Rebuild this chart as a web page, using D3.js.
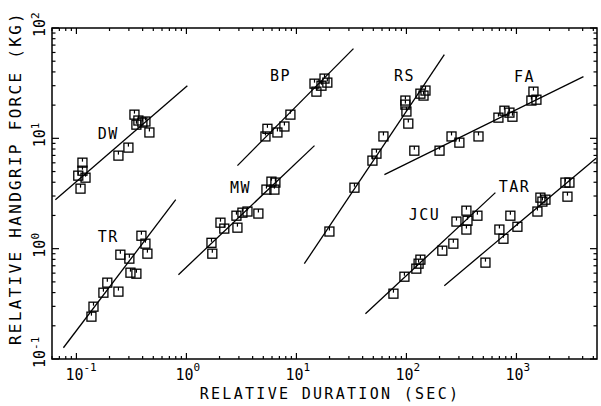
<!DOCTYPE html>
<html lang="en">
<head>
  <meta charset="UTF-8">
  <title>Relative handgrip force vs relative duration</title>
  <script src="https://d3js.org/d3.v7.min.js"></script>
  <style>
    body {
      margin: 0;
      background: #fff;
    }
    svg text {
      font-family: "DejaVu Sans Mono", monospace;
      fill: #000;
    }
  </style>
</head>
<body>
  <svg width="601" height="406"></svg>

  <script>
    // each point: [relative duration (s), relative force (kg)]
    const DW = [[0.337, 16.4], [0.398, 13.9], [0.366, 14.5], [0.424, 14.2], [0.351, 13.3],
                [0.461, 11.3], [0.297, 8.24], [0.241, 6.97], [0.1135, 6.02], [0.1135, 5.09],
                [0.104, 4.59], [0.121, 4.40], [0.109, 3.50]];
    const TR = [[0.390, 1.31], [0.424, 1.11], [0.442, 0.901], [0.251, 0.882], [0.303, 0.812],
                [0.310, 0.606], [0.351, 0.593], [0.191, 0.492], [0.176, 0.399], [0.241, 0.408],
                [0.143, 0.298], [0.137, 0.242]];
    const MW = [[5.93, 4.05], [6.44, 3.97], [5.34, 3.43], [6.31, 3.43], [2.85, 1.99],
                [3.23, 2.12], [3.59, 2.17], [4.51, 2.08], [2.04, 1.72], [2.21, 1.52],
                [2.91, 1.55], [1.69, 1.13], [1.72, 0.901]];
    const BP = [[14.6, 31.3], [18.0, 34.8], [19.1, 32.0], [16.9, 30.0], [15.2, 26.5],
                [8.82, 16.4], [7.78, 12.8], [6.72, 11.3], [5.45, 12.2], [5.23, 10.4]];
    const RS = [[134, 25.4], [149, 27.1], [143, 24.4], [97.9, 22.0], [97.9, 20.2],
                [100, 17.5], [104, 13.6], [61.8, 10.4], [53.4, 7.26], [49.1, 6.28],
                [33.7, 3.57], [19.95, 1.43]];
    const FA = [[1428, 26.5], [1368, 22.0], [1520, 22.4], [778, 17.8], [864, 17.1],
                [686, 15.4], [920, 15.7], [452, 10.4], [257, 10.4], [303, 9.14],
                [200, 7.73], [118, 7.73]];
    const JCU = [[351, 2.21], [442, 1.99], [285, 1.76], [359, 1.79], [351, 1.49],
                 [267, 1.11], [212, 0.959], [134, 0.795], [129, 0.731], [123, 0.659],
                 [95.9, 0.557], [76.2, 0.391]];
    const TAR = [[2788, 3.97], [3033, 3.97], [2910, 2.96], [1652, 2.90], [1836, 2.78],
                 [1722, 2.67], [1552, 2.17], [881, 1.99], [1021, 1.58], [700, 1.49],
                 [762, 1.23], [523, 0.747]];

    const groupNames = ["DW", "TR", "MW", "BP", "RS", "FA", "JCU", "TAR"];
    const groupPoints = [DW, TR, MW, BP, RS, FA, JCU, TAR];
    // fitted line ends, same order as groupNames
    const fitLines = [
      [[0.0644, 2.78], [1.02, 30.0]],
      [[0.0762, 0.1265], [0.80, 2.78]],
      [[0.846, 0.581], [14.6, 8.59]],
      [[2.91, 5.66], [33.0, 65.0]],
      [[11.8, 0.731], [221, 57.4]],
      [[63.1, 4.69], [4066, 36.3]],
      [[42.4, 0.257], [644, 3.22]],
      [[221, 0.462], [5300, 6.6]]
    ];
    // where each group name sits (data units)
    const labelAt = [[0.195, 11.0], [0.195, 1.28], [3.10, 3.57], [7.16, 37.0],
                     [95.9, 37.0], [1183, 36.3], [146, 2.03], [959, 3.65]];

    const xDomain = [0.06, 5400];
    const yDomain = [0.1, 100];
    const xMajor = [-1, 0, 1, 2, 3];
    const yMajor = [-1, 0, 1, 2];

    const svg = d3.select("svg");
    const pLeft = 52, pRight = 597, pTop = 28, pBottom = 359;

    const x = d3.scaleLog().domain(xDomain).range([pLeft, pRight]);
    const y = d3.scaleLog().domain(yDomain).range([pBottom, pTop]);

    // frame
    svg.append("rect")
      .attr("x", pLeft).attr("y", pTop)
      .attr("width", pRight - pLeft).attr("height", pBottom - pTop)
      .attr("fill", "none").attr("stroke", "#000").attr("stroke-width", 1.5);

    // inward ticks on all four sides
    const isMajor = v => Math.abs(Math.log10(v) - Math.round(Math.log10(v))) < 1e-6;
    const ticks = svg.append("g").attr("stroke", "#000").attr("stroke-width", 1.2);
    x.ticks().forEach(v => {
      const len = isMajor(v) ? 6 : 3;
      ticks.append("line").attr("x1", x(v)).attr("x2", x(v)).attr("y1", pBottom).attr("y2", pBottom - len);
      ticks.append("line").attr("x1", x(v)).attr("x2", x(v)).attr("y1", pTop).attr("y2", pTop + len);
    });
    y.ticks().forEach(v => {
      const len = isMajor(v) ? 7 : 3.5;
      ticks.append("line").attr("y1", y(v)).attr("y2", y(v)).attr("x1", pLeft).attr("x2", pLeft + len);
      ticks.append("line").attr("y1", y(v)).attr("y2", y(v)).attr("x1", pRight).attr("x2", pRight - len);
    });

    // x tick labels
    xMajor.forEach(e => {
      const t = svg.append("text")
        .attr("x", x(Math.pow(10, e)) - 11)
        .attr("y", 380)
        .attr("font-size", 15);
      t.append("tspan").text("10");
      t.append("tspan").attr("dy", -9).attr("font-size", 11).text(e);
    });

    // y tick labels (rotated)
    yMajor.forEach(e => {
      const t = svg.append("text")
        .attr("transform", `translate(45,${y(Math.pow(10, e))}) rotate(-90)`)
        .attr("x", -9)
        .attr("font-size", 15);
      t.append("tspan").text("10");
      t.append("tspan").attr("dy", -6).attr("font-size", 11).text(e);
    });

    // axis titles
    svg.append("text")
      .attr("x", 330).attr("y", 399)
      .attr("text-anchor", "middle")
      .attr("font-size", 15)
      .attr("letter-spacing", 2.3)
      .text("RELATIVE DURATION (SEC)");

    svg.append("text")
      .attr("transform", "translate(21,178) rotate(-90)")
      .attr("text-anchor", "middle")
      .attr("font-size", 16)
      .attr("letter-spacing", 2.3)
      .text("RELATIVE HANDGRIP FORCE (KG)");

    // fit lines
    svg.append("g").selectAll("line")
      .data(fitLines)
      .enter()
      .append("line")
      .attr("x1", d => x(d[0][0])).attr("y1", d => y(d[0][1]))
      .attr("x2", d => x(d[1][0])).attr("y2", d => y(d[1][1]))
      .attr("stroke", "#000").attr("stroke-width", 1.3);

    // square markers with the small notch
    const s = 9;
    groupPoints.forEach(pts => {
      const g = svg.append("g").selectAll("g")
        .data(pts)
        .enter()
        .append("g")
        .attr("transform", d => `translate(${x(d[0])},${y(d[1])})`);
      g.append("rect")
        .attr("x", -s / 2).attr("y", -s / 2)
        .attr("width", s).attr("height", s)
        .attr("fill", "none").attr("stroke", "#000").attr("stroke-width", 1.3);
      g.append("line")
        .attr("x1", 0).attr("x2", 0)
        .attr("y1", -s / 2).attr("y2", -s / 2 + 3.5)
        .attr("stroke", "#000").attr("stroke-width", 1.2);
    });

    // group names
    svg.append("g").selectAll("text")
      .data(groupNames)
      .enter()
      .append("text")
      .attr("x", (d, i) => x(labelAt[i][0]))
      .attr("y", (d, i) => y(labelAt[i][1]))
      .attr("text-anchor", "middle")
      .attr("dominant-baseline", "central")
      .attr("font-size", 15)
      .attr("letter-spacing", 1.5)
      .text(d => d);
  </script>
</body>
</html>
